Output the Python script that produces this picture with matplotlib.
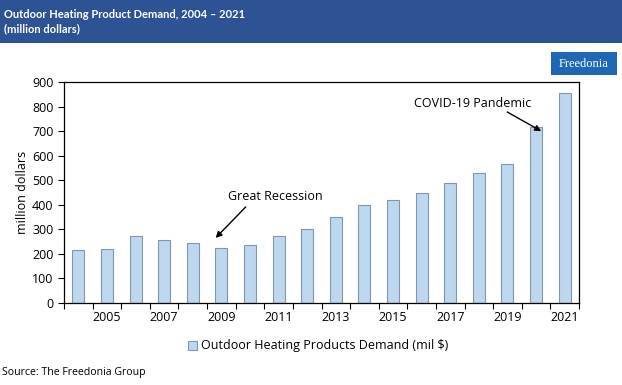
import matplotlib
matplotlib.use("Agg")
import matplotlib.pyplot as plt
from matplotlib.patches import Rectangle
from matplotlib import font_manager

years = list(range(2004, 2022))
values = [217, 219, 273, 258, 243, 223, 238, 273, 300, 349, 398, 419, 447, 487, 528, 567, 718, 857]
yticks = [0, 100, 200, 300, 400, 500, 600, 700, 800, 900]
series_name = "Outdoor Heating Products Demand (mil $)"
title_text = "Outdoor Heating Product Demand, 2004 \u2013 2021\n(million dollars)"

plt.rcParams['font.family'] = ['Open Sans', 'DejaVu Sans']

names = {f.name for f in font_manager.fontManager.ttflist}
title_family = ["Liberation Sans Narrow", "Lato", "DejaVu Sans"] if "Liberation Sans Narrow" in names else ["Lato", "DejaVu Sans"]
title_size = 9.5 if "Liberation Sans Narrow" in names else 8.0

W, H = 622, 385
fig = plt.figure(figsize=(W / 100, H / 100), dpi=100)

# header band
fig.patches.append(Rectangle((0, 1 - 43 / H), 1, 43 / H, transform=fig.transFigure,
                             facecolor="#2E5395", edgecolor="none", zorder=0))
fig.text(4 / W, 1 - 22 / H, title_text, color="white", fontsize=title_size, fontweight="bold",
         va="center", ha="left", linespacing=1.35, family=title_family)

# logo
fig.patches.append(Rectangle((551 / W, 1 - 75 / H), 66 / W, 23 / H, transform=fig.transFigure,
                             facecolor="#1F66B5", edgecolor="none"))
fig.text(584 / W, 1 - 64 / H, "Freedonia", color="white", fontsize=9, ha="center", va="center",
         family=["Liberation Serif", "DejaVu Serif"])

ax = fig.add_axes([64 / W, 1 - 303 / H, (579 - 64) / W, (303 - 82) / H])
x = list(range(len(years)))
ax.bar(x, values, width=0.42, color="#BDD7EE", edgecolor="#7F96B0", linewidth=0.8, label=series_name)
ax.set_xlim(-0.5, len(years) - 0.5)
ax.set_ylim(0, 900)
ax.set_yticks(yticks)
ax.set_yticklabels([str(v) for v in yticks], fontsize=9)
ax.set_xticks([i + 0.5 for i in range(-1, len(years))], minor=False)
ax.set_xticklabels([])
ax.set_xticks([i for i, y in enumerate(years) if y % 2 == 1], minor=True)
ax.set_xticklabels([str(y) for y in years if y % 2 == 1], minor=True, fontsize=9)
ax.tick_params(axis="x", which="minor", length=0, pad=6)
ax.tick_params(axis="x", which="major", length=4, direction="out")
ax.tick_params(axis="y", length=4, direction="out")
for s in ax.spines.values():
    s.set_linewidth(0.9)
ax.set_ylabel("million dollars", fontsize=9)
ax.yaxis.set_label_coords(-0.068, 0.5)

arrow = dict(arrowstyle="-|>", color="black", lw=1.0, shrinkA=0, shrinkB=0, mutation_scale=9)
ax.text(6.9, 432, "Great Recession", fontsize=9, ha="center", va="center")
ax.annotate("", xy=(4.8, 265), xytext=(5.85, 391), arrowprops=arrow)
ax.text(13.77, 814, "COVID-19 Pandemic", fontsize=9, ha="center", va="center")
ax.annotate("", xy=(16.18, 700), xytext=(14.99, 778), arrowprops=arrow)

fig.legend(loc="center", bbox_to_anchor=(318 / W, 1 - 346 / H), frameon=False, fontsize=9,
           handlelength=0.7, handleheight=0.7, handletextpad=0.3)

fig.text(2 / W, 1 - 372 / H, "Source: The Freedonia Group", fontsize=7.6, ha="left", va="center")

fig.savefig("out.png", dpi=100)
